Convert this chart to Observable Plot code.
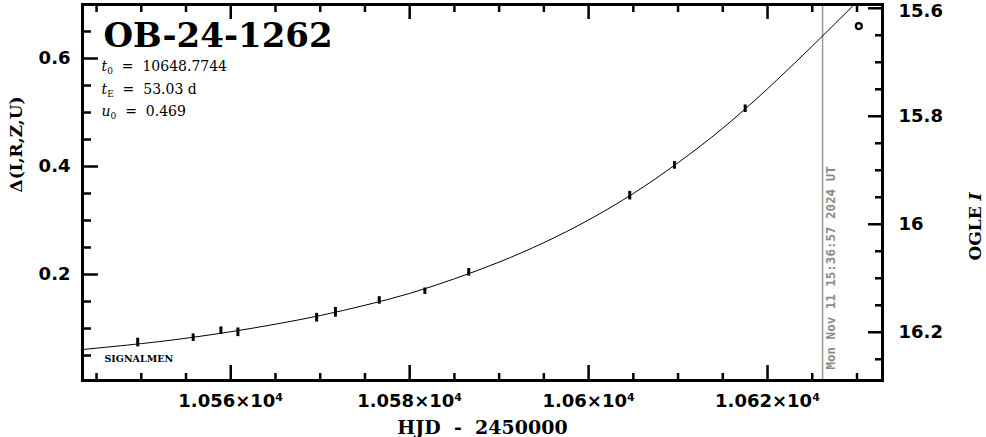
<!DOCTYPE html>
<html><head><meta charset="utf-8">
<script src="https://cdn.jsdelivr.net/npm/d3@7"></script>
<script src="https://cdn.jsdelivr.net/npm/@observablehq/plot@0.6"></script>
<style>
html,body{margin:0;padding:0;background:#fff;}
</style></head><body><div id="chart"></div>
<script>
// Observations (HJD-2450000, Δ mag, error)
const obsT = [10549.6, 10555.8, 10558.9, 10560.8, 10569.6, 10571.7, 10576.6, 10581.7, 10586.6, 10604.6, 10609.6, 10617.5];
const obsD = [0.074, 0.083, 0.096, 0.093, 0.120, 0.130, 0.152, 0.169, 0.204, 0.346, 0.402, 0.507];
const obsE = [0.008, 0.007, 0.007, 0.008, 0.008, 0.009, 0.007, 0.006, 0.007, 0.008, 0.007, 0.007];
// Open-circle point
const openT = [10630.2];
const openD = [0.660];
// Model curve
const modelT = [10543.4, 10550, 10555, 10560, 10565, 10570, 10575, 10580, 10585, 10590, 10595, 10600, 10605, 10610, 10615, 10620, 10625, 10630];
const modelD = [0.061, 0.072, 0.082, 0.094, 0.108, 0.124, 0.143, 0.165, 0.192, 0.223, 0.259, 0.301, 0.350, 0.407, 0.471, 0.544, 0.623, 0.705];
// "now" marker
const nowT = [10626.15];
const nowLabel = ["Mon Nov 11 15:36:57 2024 UT"];
// Texts
const titleText = ["OB-24-1262"];
const paramTexts = ["t0 = 10648.7744", "tE = 53.03 d", "u0 = 0.469"];
const teamText = ["SIGNALMEN"];
const xLabel = ["HJD - 2450000"];
const yLabel = ["Δ(I,R,Z,U)"];
const rLabel = ["OGLE I"];
// Ticks
const xMajor = [10560, 10580, 10600, 10620];
const xMajorLabels = ["1.056×10⁴", "1.058×10⁴", "1.06×10⁴", "1.062×10⁴"];
const xMinor = [10545, 10550, 10555, 10565, 10570, 10575, 10585, 10590, 10595, 10605, 10610, 10615, 10625, 10630];
const yMajor = [0.2, 0.4, 0.6];
const yMajorLabels = ["0.2", "0.4", "0.6"];
const yMinor = [0.05, 0.1, 0.15, 0.25, 0.3, 0.35, 0.45, 0.5, 0.55, 0.65];
const iMajor = [15.6, 15.8, 16, 16.2];
const iMajorLabels = ["15.6", "15.8", "16", "16.2"];
const iMinor = [15.65, 15.7, 15.75, 15.85, 15.9, 15.95, 16.05, 16.1, 16.15, 16.25];
const iBase = 16.293; // OGLE I at Δ = 0

const obs = obsT.map((t, i) => ({t, d: obsD[i], e: obsE[i]}));
const open = openT.map((t, i) => ({t, d: openD[i]}));
const model = modelT.map((t, i) => ({t, d: modelD[i]}));
const lookup = (vals, labels) => d => { const i = vals.findIndex(v => Math.abs(v - d) < 1e-6); return i < 0 ? "" : labels[i]; };
const iToD = v => iBase - v;
const iMajorD = iMajor.map(iToD);

const SANS = "DejaVu Sans";
const SERIF = "DejaVu Serif";
const MONO = "DejaVu Sans Mono";
const tickText = {tickSize: 0, label: null, fontSize: 18, fontWeight: "bold", fontFamily: SANS};

const plot = Plot.plot({
  width: 986,
  height: 437,
  marginLeft: 82,
  marginRight: 104,
  marginTop: 4,
  marginBottom: 57,
  style: {fontFamily: SANS, background: "#fff", color: "#000"},
  x: {domain: [10543.43, 10632.85]},
  y: {domain: [0.0037, 0.7]},
  marks: [
    // now marker
    Plot.ruleX(nowT, {x: d => d, stroke: "#9a9a9a", strokeWidth: 1.5}),
    Plot.text(nowT, {x: d => d, frameAnchor: "bottom", dy: -11, dx: 4, rotate: -90, textAnchor: "start", lineAnchor: "top",
      text: (d, i) => nowLabel[i], fill: "#8a8a8a", fontWeight: "bold", fontFamily: MONO, fontSize: 12.5}),
    // model
    Plot.line(model, {x: "t", y: "d", curve: "natural", stroke: "#000", strokeWidth: 1, clip: true}),
    // data
    Plot.ruleX(obs, {x: "t", y1: d => d.d - d.e, y2: d => d.d + d.e, stroke: "#000", strokeWidth: 3}),
    Plot.dot(open, {x: "t", y: "d", r: 3, stroke: "#000", strokeWidth: 2.2, fill: "#fff"}),
    // bottom / top ticks
    Plot.axisX({ticks: xMajor, anchor: "bottom", tickSize: -15, tickFormat: () => "", label: null, strokeWidth: 2.5}),
    Plot.axisX({ticks: xMinor, anchor: "bottom", tickSize: -7, tickFormat: () => "", label: null, strokeWidth: 2.5}),
    Plot.axisX({ticks: xMajor, anchor: "top", tickSize: -14, tickFormat: () => "", label: null, strokeWidth: 2.5}),
    Plot.axisX({ticks: xMinor, anchor: "top", tickSize: -7, tickFormat: () => "", label: null, strokeWidth: 2.5}),
    Plot.axisX({ticks: xMajor, anchor: "bottom", tickPadding: 14, tickFormat: lookup(xMajor, xMajorLabels), ...tickText}),
    // left ticks
    Plot.axisY({ticks: yMajor, anchor: "left", tickSize: -16, tickFormat: () => "", label: null, strokeWidth: 2.5}),
    Plot.axisY({ticks: yMinor, anchor: "left", tickSize: -9, tickFormat: () => "", label: null, strokeWidth: 2.5}),
    Plot.axisY({ticks: yMajor, anchor: "left", tickPadding: 12, tickFormat: lookup(yMajor, yMajorLabels), ...tickText}),
    // right ticks (OGLE I)
    Plot.axisY({ticks: iMajorD, anchor: "right", tickSize: -15, tickFormat: () => "", label: null, strokeWidth: 2.5}),
    Plot.axisY({ticks: iMinor.map(iToD), anchor: "right", tickSize: -8, tickFormat: () => "", label: null, strokeWidth: 2.5}),
    Plot.axisY({ticks: iMajorD.slice(0, 1), anchor: "right", tickPadding: 16, dy: 3,
      tickFormat: lookup(iMajorD, iMajorLabels), ...tickText}),
    Plot.axisY({ticks: iMajorD.slice(1), anchor: "right", tickPadding: 16,
      tickFormat: lookup(iMajorD, iMajorLabels), ...tickText}),
    Plot.frame({stroke: "#000", strokeWidth: 3}),
    // annotations
    Plot.text(titleText, {text: d => d, frameAnchor: "top-left", dx: 21, dy: 18, lineAnchor: "top", textAnchor: "start",
      fontFamily: SERIF, fontWeight: "bold", fontSize: 34}),
    Plot.text([paramTexts[0]], {text: d => d, frameAnchor: "top-left", dx: 19, dy: 57, lineAnchor: "top", textAnchor: "start",
      fontFamily: SERIF, fontSize: 14}),
    Plot.text([paramTexts[1]], {text: d => d, frameAnchor: "top-left", dx: 19, dy: 80, lineAnchor: "top", textAnchor: "start",
      fontFamily: SERIF, fontSize: 14}),
    Plot.text([paramTexts[2]], {text: d => d, frameAnchor: "top-left", dx: 19, dy: 102, lineAnchor: "top", textAnchor: "start",
      fontFamily: SERIF, fontSize: 14}),
    Plot.text(teamText, {text: d => d, frameAnchor: "bottom-left", dx: 22, dy: -25, lineAnchor: "top", textAnchor: "start",
      fontFamily: SERIF, fontSize: 9.5, fontWeight: "bold"}),
    Plot.text(xLabel, {text: d => d, frameAnchor: "bottom", dy: 47, lineAnchor: "middle",
      fontFamily: SERIF, fontWeight: "bold", fontSize: 19}),
    Plot.text(yLabel, {text: d => d, frameAnchor: "left", dx: -66, rotate: -90, lineAnchor: "middle",
      fontFamily: SERIF, fontWeight: "bold", fontSize: 17}),
    Plot.text(rLabel, {text: d => d, frameAnchor: "right", dx: 93, rotate: -90, lineAnchor: "middle",
      fontFamily: SERIF, fontWeight: "bold", fontSize: 17})
  ]
});

// subscripts / italics in annotation texts
d3.select(plot).selectAll("text").each(function () {
  const s = this.textContent;
  const m = /^([tu])([0E]) = (.*)$/.exec(s);
  if (m && this.childElementCount === 0) {
    this.textContent = "";
    const t = d3.select(this);
    t.append("tspan").attr("font-style", "italic").text(m[1]);
    t.append("tspan").attr("font-size", "9px").attr("dy", "3").text(m[2]);
    t.append("tspan").attr("dy", "-3").attr("xml:space", "preserve").text("  =  " + m[3]);
  } else if (s === "OGLE I" && this.childElementCount === 0) {
    this.textContent = "";
    const t = d3.select(this);
    t.append("tspan").text("OGLE ");
    t.append("tspan").attr("font-style", "italic").text("I");
  } else if (s === "HJD - 2450000" && this.childElementCount === 0) {
    this.setAttribute("xml:space", "preserve");
    this.style.whiteSpace = "pre";
    this.textContent = "HJD  -  2450000";
  }
});

document.getElementById("chart").appendChild(plot);
</script>
</body></html>
